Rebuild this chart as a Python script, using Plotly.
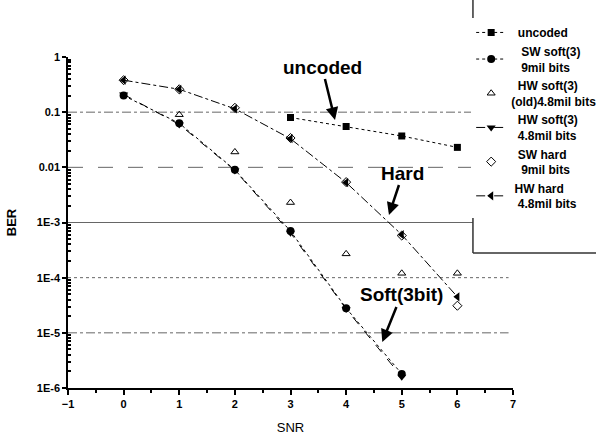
import plotly.graph_objects as go

# ---- data ----
snr_uncoded = [3, 4, 5, 6]
ber_uncoded = [0.08, 0.055, 0.037, 0.023]

snr_sw_soft = [0, 1, 2, 3, 4, 5]
ber_sw_soft = [0.2, 0.063, 0.009, 7e-4, 2.8e-5, 1.8e-6]

snr_hw_soft_old = [1, 2, 3, 4, 5, 6]
ber_hw_soft_old = [0.09, 0.019, 0.0023, 2.7e-4, 1.2e-4, 1.2e-4]

snr_hw_soft = [0, 1, 2, 3, 4, 5]
ber_hw_soft = [0.21, 0.06, 0.0088, 6.5e-4, 2.7e-5, 1.6e-6]

snr_sw_hard = [0, 1, 2, 3, 4, 5, 6]
ber_sw_hard = [0.38, 0.26, 0.12, 0.034, 0.0054, 5.8e-4, 3.1e-5]

snr_hw_hard = [0, 1, 2, 3, 4, 5, 6]
ber_hw_hard = [0.38, 0.26, 0.115, 0.033, 0.0053, 6e-4, 4.5e-5]

y_tickvals = [1e-6, 1e-5, 1e-4, 1e-3, 1e-2, 1e-1, 1]
y_ticktext = ["1E-6", "1E-5", "1E-4", "1E-3", "0.01", "0.1", "1"]
x_tickvals = [-1, 0, 1, 2, 3, 4, 5, 6, 7]

# decade reference lines (log10 value, dash style, right end in paper coords)
ref_decades = [-1, -2, -3, -4, -5]
ref_dashes = ["dashdot", "longdash", "solid", "dot", "dashdot"]
ref_ends = [0.91, 0.91, 0.91, 0.99, 0.99]

NB = "\u00a0"
FONT = "Liberation Sans, Arial, sans-serif"

fig = go.Figure()

fig.add_trace(go.Scatter(
    x=snr_uncoded, y=ber_uncoded, mode="lines+markers",
    name=NB * 2 + "uncoded",
    line=dict(color="black", width=1, dash="dot"),
    marker=dict(symbol="square", size=7, color="black")))

fig.add_trace(go.Scatter(
    x=snr_sw_soft, y=ber_sw_soft, mode="lines+markers",
    name=NB * 3 + "SW soft(3)<br>" + NB * 3 + "9mil bits",
    line=dict(color="black", width=1, dash="dot"),
    marker=dict(symbol="circle", size=8, color="black")))

fig.add_trace(go.Scatter(
    x=snr_hw_soft_old, y=ber_hw_soft_old, mode="markers",
    name=NB * 2 + "HW soft(3)<br>(old)4.8mil bits",
    marker=dict(symbol="triangle-up-open", size=7, color="black",
                line=dict(width=1))))

fig.add_trace(go.Scatter(
    x=snr_hw_soft, y=ber_hw_soft, mode="lines+markers",
    name=NB * 2 + "HW soft(3)<br>" + NB * 2 + "4.8mil bits",
    line=dict(color="black", width=1, dash="dash"),
    marker=dict(symbol="triangle-down", size=8, color="black")))

fig.add_trace(go.Scatter(
    x=snr_sw_hard, y=ber_sw_hard, mode="markers",
    name=NB * 2 + "SW hard<br>" + NB * 3 + "9mil bits",
    marker=dict(symbol="diamond-open", size=7, color="black",
                line=dict(width=1))))

fig.add_trace(go.Scatter(
    x=snr_hw_hard, y=ber_hw_hard, mode="lines+markers",
    name=NB * 1 + "HW hard<br>" + NB * 2 + "4.8mil bits",
    line=dict(color="black", width=1, dash="dashdot"),
    marker=dict(symbol="triangle-left", size=8, color="black")))

Y_MIN_LOG, Y_MAX_LOG = -6, 0
shapes = []
for yv, dsh, xe in zip(ref_decades, ref_dashes, ref_ends):
    yp = (yv - Y_MIN_LOG) / (Y_MAX_LOG - Y_MIN_LOG)
    shapes.append(dict(type="line", xref="paper", yref="paper", x0=0, x1=xe, y0=yp, y1=yp,
                       line=dict(color="#666666", width=1, dash=dsh), layer="below"))
# legend frame (left and bottom edges visible)
shapes.append(dict(type="line", xref="paper", yref="paper", x0=0.91, x1=1.25, y0=0.408, y1=0.408,
                   line=dict(color="#333333", width=1.5)))
shapes.append(dict(type="line", xref="paper", yref="paper", x0=0.91, x1=0.91, y0=0.408, y1=1.25,
                   line=dict(color="#333333", width=1.5)))

annotations = [
    dict(x=3.80, y=-1.142, xref="x", yref="y", ax=-13, ay=-53, text="<b>uncoded</b>",
         showarrow=True, arrowhead=2, arrowsize=1, arrowwidth=2.5, arrowcolor="black",
         font=dict(family=FONT, size=19, color="black")),
    dict(x=4.77, y=-2.864, xref="x", yref="y", ax=14, ay=-42, text="<b>Hard</b>",
         showarrow=True, arrowhead=2, arrowsize=1, arrowwidth=2.5, arrowcolor="black",
         font=dict(family=FONT, size=19, color="black")),
    dict(x=4.65, y=-5.166, xref="x", yref="y", ax=19, ay=-47, text="<b>Soft(3bit)</b>",
         showarrow=True, arrowhead=2, arrowsize=1, arrowwidth=2.5, arrowcolor="black",
         font=dict(family=FONT, size=19, color="black")),
]

minor_y = [k * 10 ** e for e in range(-6, 0) for k in range(2, 10)]

fig.update_layout(
    width=596, height=441,
    margin=dict(l=68, r=83, t=57, b=53, autoexpand=False),
    paper_bgcolor="white", plot_bgcolor="rgba(0,0,0,0)",
    font=dict(family=FONT, color="black"),
    showlegend=True,
    legend=dict(x=0.906, y=1.118, xanchor="left", yanchor="top",
                bgcolor="white", borderwidth=0,
                font=dict(family=FONT, size=12, color="black", weight="bold"),
                itemwidth=30),
    shapes=shapes,
    annotations=annotations,
    xaxis=dict(range=[-1, 7], tickvals=x_tickvals, showgrid=False, zeroline=False,
               showline=True, linecolor="black", linewidth=1.5,
               ticks="outside", ticklen=5, tickwidth=1.5, tickcolor="black",
               minor=dict(tickvals=[-0.5, 0.5, 1.5, 2.5, 3.5, 4.5, 5.5, 6.5],
                          ticks="outside", ticklen=3, tickcolor="black"),
               tickfont=dict(family=FONT, size=11, color="black", weight="bold"),
               title=dict(text="SNR", standoff=14,
                          font=dict(family=FONT, size=13, color="black")),
               automargin=False),
    yaxis=dict(type="log", range=[Y_MIN_LOG, Y_MAX_LOG], tickvals=y_tickvals, ticktext=y_ticktext,
               showgrid=False, zeroline=False,
               showline=True, linecolor="black", linewidth=1.5,
               ticks="outside", ticklen=4, tickwidth=1.5, tickcolor="black",
               minor=dict(tickvals=minor_y, ticks="inside", ticklen=3, tickcolor="black"),
               tickfont=dict(family=FONT, size=11, color="black", weight="bold"),
               title=dict(text="BER", standoff=17,
                          font=dict(family=FONT, size=13, color="black", weight="bold")),
               automargin=False),
)

post = ("document.body.style.margin='0';document.body.style.padding='0';"
        "document.body.style.overflow='hidden';")
fig.write_html("out.html", post_script=post,
               config={"responsive": False, "displayModeBar": False})
